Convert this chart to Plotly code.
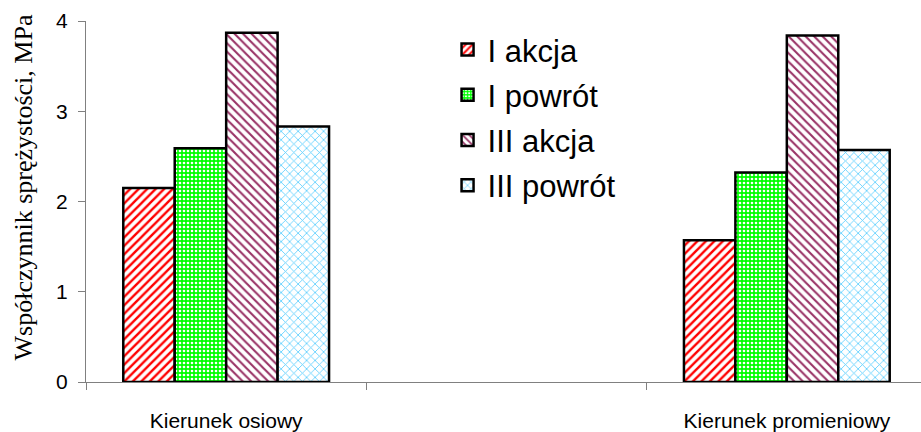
import plotly.graph_objects as go

categories = ["Kierunek osiowy", "Kierunek promieniowy"]
cat_pos = [0, 2]
series_names = ["I akcja", "I powrót", "III akcja", "III powrót"]
i_akcja = [2.15, 1.57]
i_powrot = [2.59, 2.32]
iii_akcja = [3.87, 3.84]
iii_powrot = [2.83, 2.57]
y_ticks = [0, 1, 2, 3, 4]

values = [i_akcja, i_powrot, iii_akcja, iii_powrot]
styles = [
    dict(shape="/", fg="#FF0000", bg="white", size=6, sol=0.4),
    dict(shape=".", fg="white", bg="#00FF00", size=4, sol=0.35),
    dict(shape="\\", fg="#993366", bg="white", size=6, sol=0.35),
    dict(shape="x", fg="#55CCFF", bg="white", size=6, sol=0.25),
]

fig = go.Figure()
for name, vals, st in zip(series_names, values, styles):
    fig.add_trace(go.Bar(
        x=cat_pos, y=vals, name=name, legendgroup=name,
        marker=dict(
            color=st["bg"],
            line=dict(color="black", width=2.5),
            pattern=dict(shape=st["shape"], fgcolor=st["fg"], bgcolor=st["bg"],
                         size=st["size"], solidity=st["sol"], fillmode="replace"),
        ),
    ))

fig.update_layout(
    width=921, height=432,
    margin=dict(l=86, r=0, t=21, b=48),
    paper_bgcolor="white", plot_bgcolor="white",
    barmode="group", bargap=0.633, bargroupgap=0,
    font=dict(family="Liberation Sans, Arial", color="black"),
    showlegend=True,
    legend=dict(x=0.433, y=0.995, xanchor="left", yanchor="top",
                font=dict(size=31, family="Liberation Sans, Arial"),
                tracegroupgap=2, bgcolor="rgba(0,0,0,0)"),
    xaxis=dict(
        range=[-0.5, 2.4786],
        tickmode="array", tickvals=cat_pos, ticktext=categories,
        ticks="outside", ticklen=20, tickcolor="rgba(0,0,0,0)",
        tickfont=dict(size=21),
        showline=True, linecolor="#808080", linewidth=1,
        showgrid=False, zeroline=False,
        minor=dict(tickvals=[-0.5, 0.5, 1.5], ticks="outside", ticklen=7,
                   tickcolor="#808080", tickwidth=1, showgrid=False),
    ),
    yaxis=dict(
        range=[0, 4], tickvals=y_ticks,
        ticks="outside", ticklen=7, tickcolor="#808080",
        tickfont=dict(size=21), ticklabelstandoff=6,
        showline=True, linecolor="#808080", linewidth=1,
        showgrid=False, zeroline=False,
    ),
    annotations=[dict(
        text="Współczynnik sprężystości, MPa", textangle=-90,
        xref="paper", yref="paper", x=-0.075, y=0.54,
        xanchor="center", yanchor="middle", showarrow=False,
        font=dict(family="Liberation Serif, Times New Roman", size=26, color="black"),
    )],
)

fig.write_html("out.html")
